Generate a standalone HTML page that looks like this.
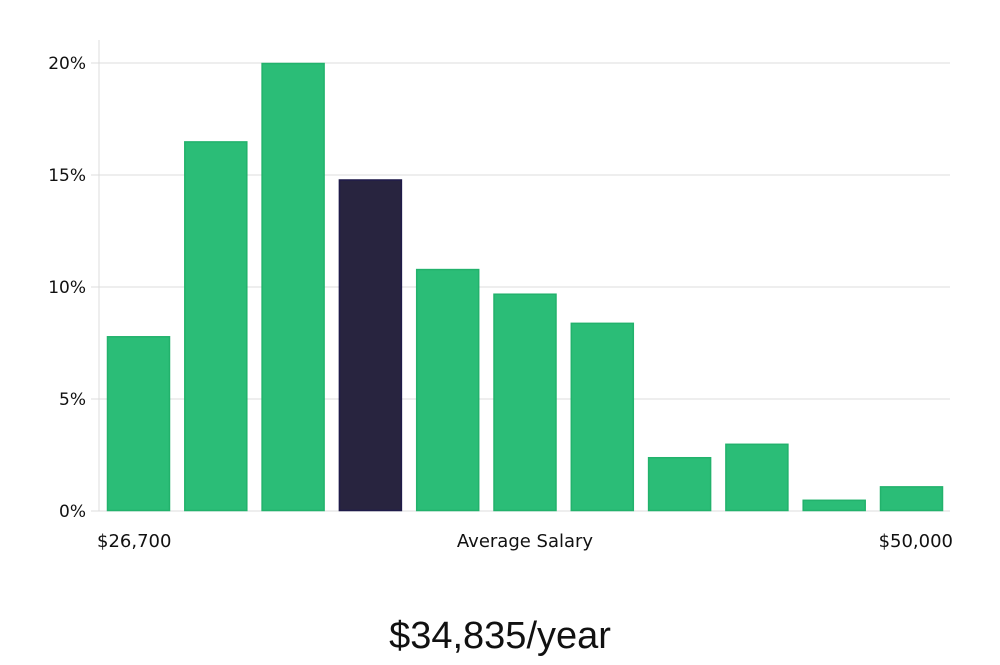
<!DOCTYPE html>
<html><head><meta charset="utf-8"><style>
body{margin:0;background:#fff;width:1000px;height:660px;overflow:hidden}
svg text{font-family:"DejaVu Sans","Liberation Sans",sans-serif;fill:#111}
</style></head><body>
<svg width="1000" height="660" id="chart"></svg>
<script>
const values=[7.8,16.5,20.0,14.8,10.8,9.7,8.4,2.4,3.0,0.5,1.1];
const highlight=[false,false,false,true,false,false,false,false,false,false,false];
const yTicks=[0,5,10,15,20];
const yTickLabels=["0%","5%","10%","15%","20%"];
const xLabels=["$26,700","Average Salary","$50,000"];
const svg=document.getElementById('chart');
const NS='http://www.w3.org/2000/svg';
const x0=99,x1=950,y0=511,yTop=40;
const y=v=>y0-v*22.4;
const step=77.3,bw=63,bx0=107;
const bx=i=>bx0+i*step;
function el(t,a){const e=document.createElementNS(NS,t);for(const k in a)e.setAttribute(k,a[k]);svg.appendChild(e);return e;}
yTicks.forEach((v,i)=>{
 const g=el('line',{x1:x0-8,x2:x1,y1:y(v),y2:y(v),stroke:'#dcdcdc','stroke-width':1});
 
 
 const t=el('text',{x:86,y:y(v)+6,'text-anchor':'end','font-size':17});
 t.textContent=yTickLabels[i];
 
 
});
const ax=el('line',{x1:x0,x2:x0,y1:yTop,y2:y0,stroke:'#dcdcdc'});


values.forEach((v,i)=>{
 const r=el('rect',{x:bx(i)+0.5,y:y(v)+0.5,width:bw-1,height:y0-y(v)-1,fill:highlight[i]?'#28243f':'#2bbd77',stroke:highlight[i]?'#1f1b4a':'#22b26c','stroke-width':1.5});
 
 
});
const xl=[[97,'start'],[525,'middle'],[953,'end']];
xLabels.forEach((s,i)=>{
 const t=el('text',{x:xl[i][0],y:547,'text-anchor':xl[i][1],'font-size':18});
 t.textContent=s;
 
 
});
const tt=el('text',{x:500,y:648,'text-anchor':'middle','font-size':38});
tt.setAttribute('style','font-family:"Liberation Sans",sans-serif;font-weight:300');
tt.textContent='$34,835/year';


</script>
</body></html>
